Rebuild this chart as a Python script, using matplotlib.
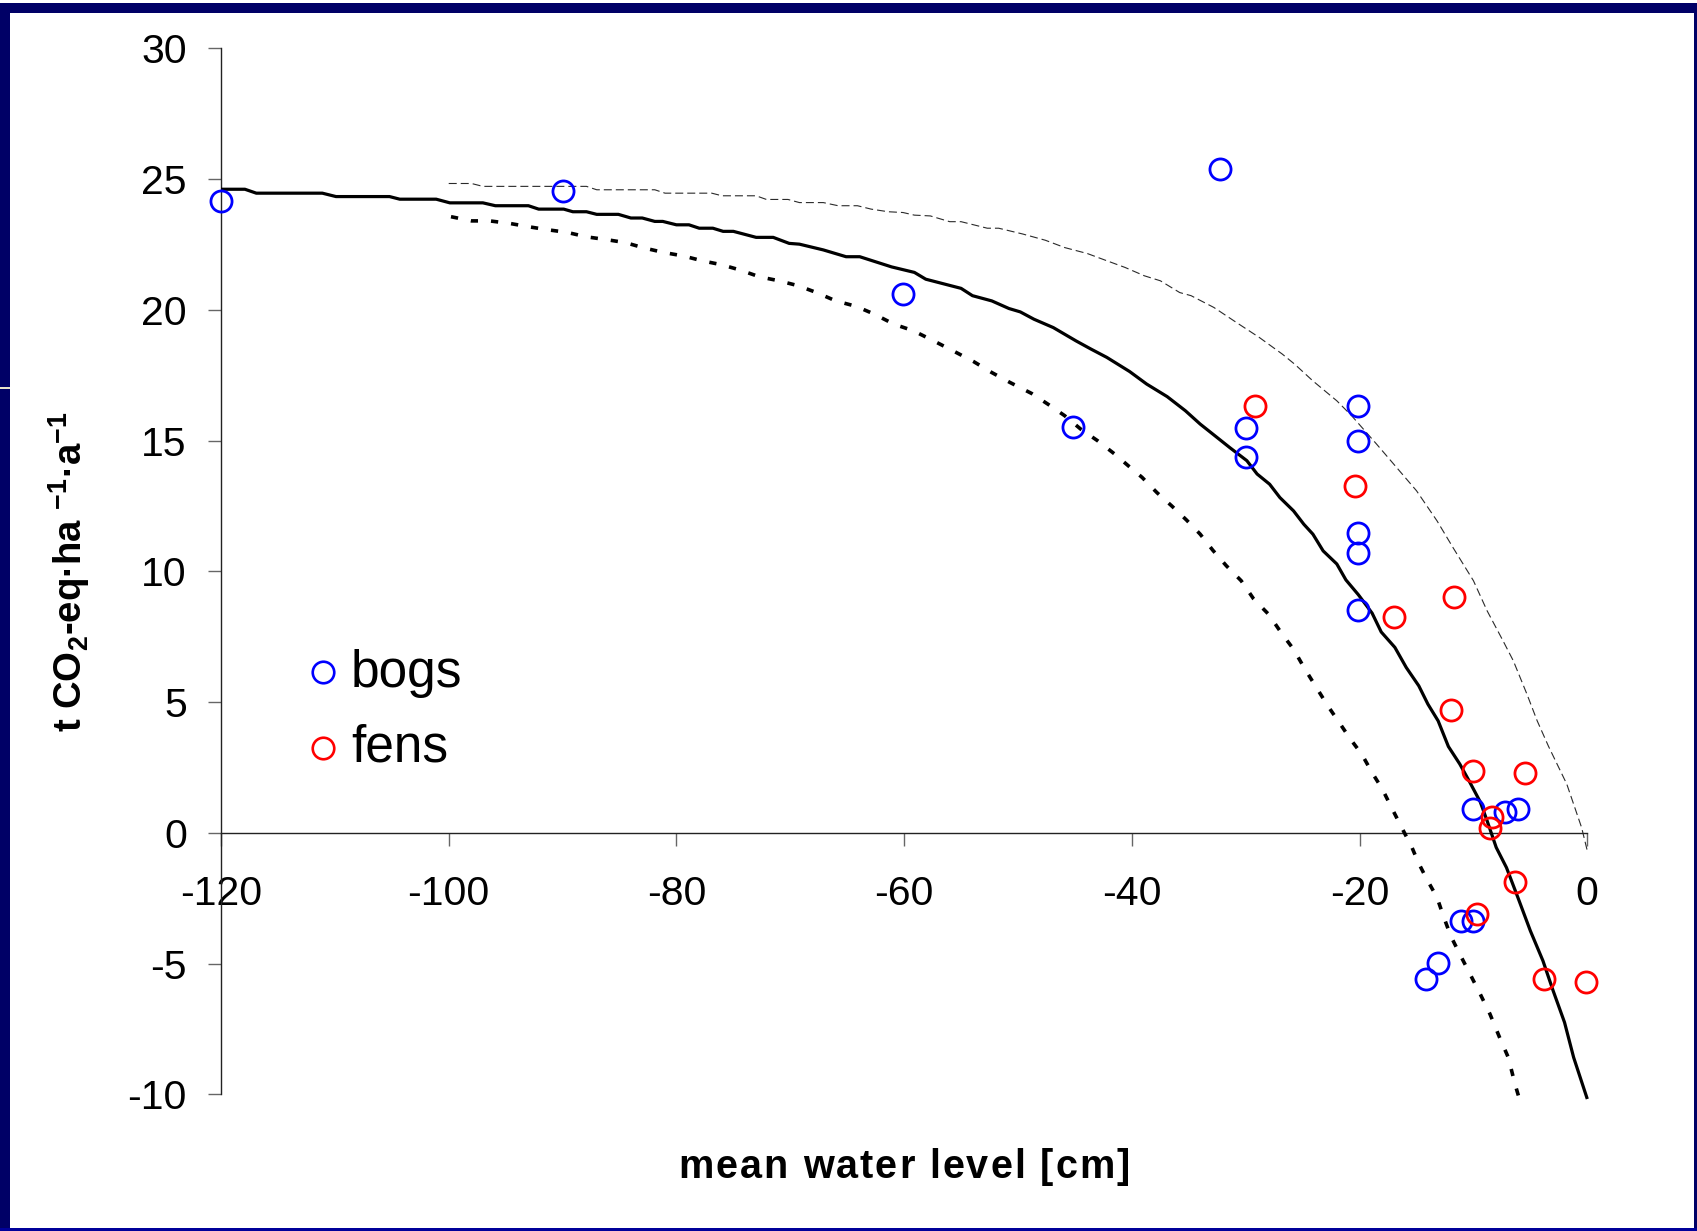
import matplotlib
matplotlib.use('Agg')
import matplotlib.pyplot as plt
from matplotlib.lines import Line2D
from matplotlib.patches import Rectangle
from matplotlib.font_manager import FontProperties

plt.rcParams['font.family'] = ['Liberation Sans', 'DejaVu Sans']
plt.rcParams['axes.unicode_minus'] = False
plt.rcParams['mathtext.fontset'] = 'custom'
plt.rcParams['mathtext.rm'] = 'Liberation Sans:bold'
plt.rcParams['mathtext.bf'] = 'Liberation Sans:bold'
plt.rcParams['mathtext.it'] = 'Liberation Sans:bold'

# ---------------- data ----------------
bogs_x = [-120, -90.0, -60.1, -45.2, -32.3, -30.0, -30.0, -20.1, -20.1, -20.1, -20.1, -20.1,
          -10.0, -7.2, -6.1, -11.1, -10.0, -13.1, -14.2]
bogs_y = [24.17, 24.53, 20.62, 15.5, 25.4, 15.48, 14.38, 16.33, 14.99, 11.45, 10.69, 8.52,
          0.91, 0.78, 0.91, -3.37, -3.37, -4.96, -5.6]

fens_x = [-29.2, -20.4, -17.0, -11.7, -12.0, -10.0, -5.5, -8.35, -8.55, -6.35, -9.7, -3.8, -0.1]
fens_y = [16.33, 13.27, 8.26, 9.0, 4.70, 2.37, 2.27, 0.62, 0.18, -1.9, -3.11, -5.6, -5.69]

solid_x = [-120, -117.9, -116.9, -111.1, -109.9, -105.2, -104.3, -101.1, -99.9, -97.0,
           -95.9, -93.0, -92.1, -89.9, -89.1, -87.9, -87.0, -85.1, -84.0, -83.0,
           -81.9, -81.2, -80.0, -78.9, -78.0, -76.8, -75.9, -75.0, -73.0, -71.5,
           -70.1, -69.2, -67.1, -65.1, -63.9, -61.1, -59.1, -58.1, -55.0, -54.0,
           -52.3, -50.8, -49.8, -48.6, -46.9, -44.9, -43.6, -42.2, -40.2, -38.7,
           -36.9, -35.3, -34.0, -32.9, -31.4, -29.9, -29.0, -27.9, -27.0, -25.8,
           -24.9, -24.1, -23.2, -22.0, -21.2, -20.1, -18.9, -18.1, -16.9, -15.9,
           -14.8, -14.0, -13.1, -12.2, -11.2, -10.4, -9.4, -8.8, -8.0, -7.1,
           -6.1, -5.0, -3.9, -3.0, -2.0, -1.2, 0]
solid_y = [24.61, 24.61, 24.46, 24.46, 24.33, 24.33, 24.23, 24.23, 24.09, 24.09,
           23.98, 23.98, 23.85, 23.85, 23.75, 23.75, 23.65, 23.65, 23.51, 23.51,
           23.38, 23.38, 23.25, 23.25, 23.12, 23.12, 23.0, 23.0, 22.77, 22.77,
           22.54, 22.51, 22.29, 22.03, 22.03, 21.64, 21.43, 21.17, 20.82, 20.54,
           20.34, 20.05, 19.92, 19.64, 19.32, 18.81, 18.5, 18.18, 17.64, 17.16,
           16.68, 16.14, 15.63, 15.25, 14.73, 14.23, 13.72, 13.33, 12.82, 12.31,
           11.8, 11.42, 10.78, 10.28, 9.67, 9.1, 8.4, 7.68, 7.09, 6.32,
           5.62, 4.92, 4.28, 3.3, 2.63, 2.0, 1.18, 0.46, -0.56, -1.33,
           -2.47, -3.75, -4.89, -6.04, -7.25, -8.59, -10.18]

upper_x = [-100.0, -98.0, -97.0, -87.9, -87.0, -81.9, -81.0, -76.9, -76.0, -73.0,
           -72.1, -70.2, -69.2, -67.1, -65.8, -64.1, -62.9, -61.4, -60.1, -59.1,
           -57.7, -56.0, -55.0, -52.7, -51.7, -49.6, -47.6, -45.9, -43.9, -42.6,
           -40.6, -38.9, -37.5, -35.8, -34.8, -32.8, -30.8, -28.8, -26.8, -25.7,
           -24.1, -22.0, -20.7, -18.5, -15.0, -13.2, -11.8, -10.0, -8.8, -7.4,
           -6.5, -5.3, -4.4, -3.4, -1.8, -0.5, 0]
upper_y = [24.83, 24.83, 24.72, 24.72, 24.59, 24.59, 24.46, 24.46, 24.36, 24.36,
           24.22, 24.22, 24.1, 24.1, 23.98, 23.98, 23.85, 23.75, 23.72, 23.62,
           23.59, 23.37, 23.37, 23.12, 23.12, 22.9, 22.66, 22.38, 22.15, 21.94,
           21.62, 21.3, 21.11, 20.66, 20.54, 20.09, 19.51, 18.94, 18.31, 17.92,
           17.28, 16.52, 15.95, 14.86, 13.08, 11.93, 10.91, 9.64, 8.49, 7.34,
           6.58, 5.3, 4.28, 3.3, 1.86, 0.2, -0.69]

lower_x = [-99.8, -98.0, -96.4, -94.6, -92.9, -91.3, -89.6, -87.9, -86.1, -84.5,
           -82.8, -81.1, -79.4, -77.7, -76.0, -74.4, -72.7, -71.0, -69.3, -67.7,
           -66.0, -64.2, -62.6, -60.9, -59.2, -57.4, -55.7, -53.9, -52.3, -50.7,
           -48.8, -47.3, -45.9, -44.5, -43.0, -41.5, -40.3, -39.1, -37.8, -36.5,
           -35.2, -34.0, -32.9, -31.7, -30.4, -29.3, -28.0, -26.8, -25.8, -24.8,
           -23.8, -22.8, -21.7, -20.8, -19.8, -18.9, -18.0, -17.2, -16.3, -15.4,
           -14.85, -14.1, -13.2, -12.65, -12.0, -11.2, -10.3, -9.4, -8.55, -7.7,
           -6.94, -6.35, -5.76]
lower_y = [23.56, 23.4, 23.4, 23.3, 23.17, 23.06, 22.96, 22.79, 22.68, 22.57,
           22.36, 22.19, 22.06, 21.87, 21.72, 21.52, 21.26, 21.11, 20.92, 20.66,
           20.34, 20.13, 19.83, 19.45, 19.2, 18.81, 18.43, 18.02, 17.6, 17.22,
           16.8, 16.37, 15.95, 15.44, 14.99, 14.48, 14.03, 13.59, 13.01, 12.5,
           11.96, 11.42, 10.81, 10.21, 9.64, 8.94, 8.36, 7.6, 7.02, 6.26,
           5.56, 4.86, 4.16, 3.58, 3.0, 2.3, 1.67, 0.97, 0.2, -0.56,
           -1.13, -1.77, -2.47, -3.17, -3.94, -4.64, -5.40, -6.17, -6.93, -7.83,
           -8.59, -9.61, -10.48]

x_ticks = [-120, -100, -80, -60, -40, -20, 0]
x_tick_labels = ['-120', '-100', '-80', '-60', '-40', '-20', '0']
y_ticks = [-10, -5, 0, 5, 10, 15, 20, 25, 30]
y_tick_labels = ['-10', '-5', '0', '5', '10', '15', '20', '25', '30']
legend_labels = ['bogs', 'fens']
x_label = 'mean water level [cm]'
y_label = r't CO$_{\mathbf{2}}$-eq·ha $^{\mathbf{-1}}$·a$^{\mathbf{-1}}$'

# ---------------- figure ----------------
W, H = 1697, 1231
fig = plt.figure(figsize=(W / 100, H / 100), dpi=100, facecolor='white')

# slide frame
navy = '#000066'
fig.patches.append(Rectangle((0, 1 - 13 / H), 1, 10 / H, transform=fig.transFigure,
                             facecolor=navy, edgecolor='none', zorder=0))
fig.patches.append(Rectangle((0, 0), 10 / W, 1 - 3 / H, transform=fig.transFigure,
                             facecolor=navy, edgecolor='none', zorder=0))
fig.patches.append(Rectangle((1 - 3.5 / W, 0), 3.5 / W, 1 - 3 / H, transform=fig.transFigure,
                             facecolor=navy, edgecolor='none', zorder=0))
fig.patches.append(Rectangle((0, 0), 1, 3 / H, transform=fig.transFigure,
                             facecolor='#00009A', edgecolor='none', zorder=0))
fig.patches.append(Rectangle((0, 1 - 389 / H), 10 / W, 1.5 / H, transform=fig.transFigure,
                             facecolor='#E8E2CC', edgecolor='none', zorder=1))

ax = fig.add_axes([221 / W, 1 - 1094.3 / H, (1587.3 - 221) / W, (1094.3 - 48.3) / H])
ax.set_facecolor('none')
ax.set_xlim(-120, 0)
ax.set_ylim(-10, 30)

ax.spines['top'].set_visible(False)
ax.spines['right'].set_visible(False)
ax.spines['bottom'].set_position(('data', 0))
for s in ('left', 'bottom'):
    ax.spines[s].set_color('#222222')
    ax.spines[s].set_linewidth(1.0)

ax.set_xticks(x_ticks)
ax.set_xticklabels(x_tick_labels)
ax.set_yticks(y_ticks)
ax.set_yticklabels(y_tick_labels)
ax.tick_params(axis='x', direction='out', length=9.1, width=1.0, color='#666666',
               pad=21, labelsize=29.5, labelcolor='black')
ax.tick_params(axis='y', direction='out', length=9.1, width=1.0, color='#666666',
               pad=15.5, labelsize=29.5, labelcolor='black')

# curves
ax.plot(solid_x, solid_y, color='black', lw=2.3, solid_joinstyle='round',
        solid_capstyle='butt', zorder=3, clip_on=False)
ax.plot(upper_x, upper_y, color='#2a2a2a', lw=0.8, dashes=(7.2, 3.6),
        dash_capstyle='butt', zorder=3, clip_on=False)
ax.plot(lower_x, lower_y, color='black', lw=2.6, dashes=(2.0, 3.6),
        dash_capstyle='butt', zorder=3, clip_on=False)

# points
ax.plot(bogs_x, bogs_y, ls='none', marker='o', ms=15.2, mfc='none', mec='#0000FF',
        mew=2.0, zorder=4, clip_on=False)
ax.plot(fens_x, fens_y, ls='none', marker='o', ms=15.2, mfc='none', mec='#FF0000',
        mew=2.0, zorder=4, clip_on=False)

# legend (manual)
leg_colors = ['#0000FF', '#FF0000']
leg_marker_y = [671.7, 748.3]
leg_text_y = [686.7, 761.7]
for lab, col, my, ty in zip(legend_labels, leg_colors, leg_marker_y, leg_text_y):
    fig.add_artist(Line2D([322.7 / W], [1 - my / H], transform=fig.transFigure,
                          ls='none', marker='o', ms=15.5, mfc='none', mec=col, mew=1.9))
    fig.text(351 / W, 1 - ty / H, lab, fontsize=37, ha='left', va='baseline', color='black')

# y label
fig.text(69 / W, 1 - 571.5 / H, y_label, rotation=90, ha='center', va='center',
         fontsize=27.5, fontweight='bold', color='black')

# x label with wide letter spacing
fig.canvas.draw()
r = fig.canvas.get_renderer()
fp = FontProperties(family='Liberation Sans', weight='bold', size=28.5)


def tw(s):
    w, h, d = r.get_text_width_height_descent(s, fp, ismath=False)
    return w


x0, x1 = 678.0, 1130.0
extra = ((x1 - x0) - tw(x_label)) / (len(x_label) - 1)
for i, c in enumerate(x_label):
    if c == ' ':
        continue
    xr = x0 + tw(x_label[:i + 1]) + extra * i
    fig.text(xr / W, 1 - 1178.3 / H, c, ha='right', va='baseline', fontproperties=fp,
             color='black')

fig.savefig('out.png', dpi=100, facecolor='white')
